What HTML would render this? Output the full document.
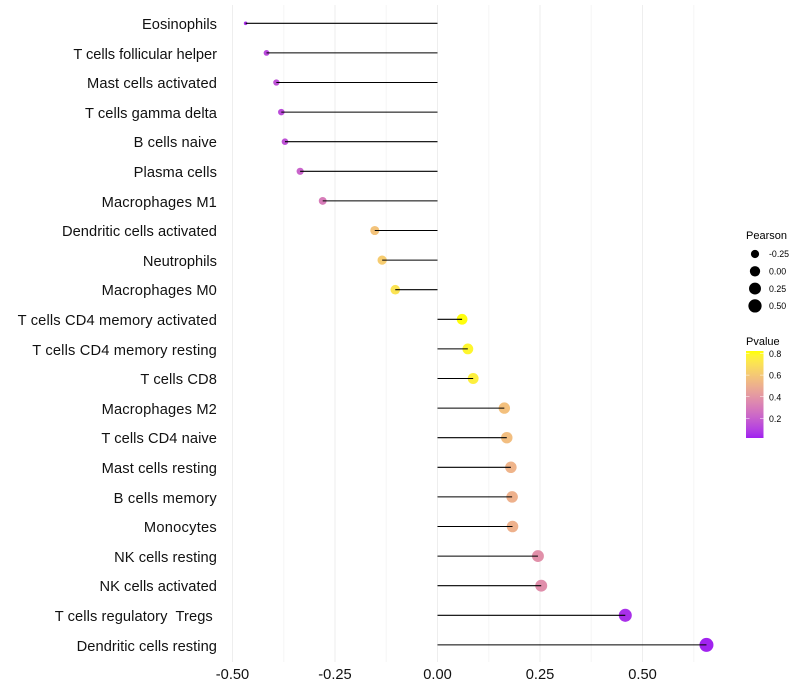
<!DOCTYPE html>
<html lang="en">
<head>
<meta charset="utf-8">
<title>Immune cell correlation lollipop chart</title>
<style>
  html, body { margin: 0; padding: 0; background: #fff; }
  svg { display: block; font-family: "Liberation Sans", sans-serif; }
</style>
</head>
<body>
<svg id="chart" xmlns="http://www.w3.org/2000/svg" width="800" height="700" viewBox="0 0 800 700">
  <defs>
    <linearGradient id="pvalue-gradient" x1="0" y1="1" x2="0" y2="0"></linearGradient>
  </defs>
  <rect width="800" height="700" fill="#ffffff"/>
  <g id="grid"></g>
  <g id="points"></g>
  <g id="stems"></g>
  <g id="y-labels" font-size="14.67" fill="#111111" text-anchor="end"></g>
  <g id="x-labels" font-size="14.67" fill="#111111" text-anchor="middle"></g>

  <g id="size-legend">
    <text x="746" y="239" font-size="11" fill="#000">Pearson</text>
  </g>
  <g id="color-legend">
    <text x="746" y="345" font-size="11" fill="#000">Pvalue</text>
    <rect x="746" y="351" width="17.5" height="87" fill="url(#pvalue-gradient)"/>
  </g>
</svg>
<script>
const categories = ["Eosinophils","T cells follicular helper","Mast cells activated","T cells gamma delta","B cells naive","Plasma cells","Macrophages M1","Dendritic cells activated","Neutrophils","Macrophages M0","T cells CD4 memory activated","T cells CD4 memory resting","T cells CD8","Macrophages M2","T cells CD4 naive","Mast cells resting","B cells memory","Monocytes","NK cells resting","NK cells activated","T cells regulatory  Tregs ","Dendritic cells resting"];
const pearsonValues = [-0.468,-0.417,-0.393,-0.381,-0.372,-0.335,-0.280,-0.153,-0.135,-0.103,0.060,0.074,0.087,0.163,0.169,0.179,0.182,0.183,0.245,0.253,0.458,0.656];
const pvalueValues = [0.05,0.12,0.15,0.13,0.15,0.21,0.30,0.58,0.62,0.71,0.82,0.79,0.76,0.57,0.56,0.52,0.51,0.51,0.38,0.37,0.05,0.02];
const xMajorTicks = [-0.5,-0.25,0,0.25,0.5];
const xMinorTicks = [-0.375,-0.125,0.125,0.375,0.625];
const xTickLabels = ["-0.50","-0.25","0.00","0.25","0.50"];
const sizeLegendValues = [-0.25,0,0.25,0.5];
const sizeLegendLabels = ["-0.25","0.00","0.25","0.50"];
const colorLegendValues = [0.2,0.4,0.6,0.8];
const colorLegendLabels = ["0.2","0.4","0.6","0.8"];

const NS = "http://www.w3.org/2000/svg";
function make(tag, attrs, parent) {
  const el = document.createElementNS(NS, tag);
  for (const k in attrs) el.setAttribute(k, attrs[k]);
  parent.appendChild(el);
  return el;
}
function slug(s) { return s.trim().toLowerCase().replace(/[^a-z0-9]+/g, "-"); }

/* axis functions */
function xScale(v) { return 437.5 + 410 * v; }
function yScale(i) { return 23.3 + 29.6 * i; }
function pvalueScale(p) { return 353.5 + (0.8 - p) * 108; }
function radiusScale(v) {
  const t = Math.max(0, (v + 0.468) / 1.124);
  return 1.8 + 5.2 * Math.sqrt(t);
}

/* text style: extra tracking per label, mimicking the reference's hinted glyph advances */
const labelTracking = {
  "T cells follicular helper": -1, "Mast cells activated": 2, "T cells gamma delta": 1,
  "B cells naive": 1, "Plasma cells": 1, "Macrophages M1": 2, "Dendritic cells activated": 1,
  "Macrophages M0": 2, "T cells CD4 memory activated": 4, "T cells CD4 memory resting": 4,
  "T cells CD8": 1, "Macrophages M2": 2, "T cells CD4 naive": 1, "Mast cells resting": 2,
  "B cells memory": 3, "Monocytes": 2, "NK cells resting": 1, "NK cells activated": 1,
  "T cells regulatory  Tregs ": 2, "Dendritic cells resting": 1
};

/* colour scale: purple to yellow interpolated in Lab, like ggplot2 */
function rgb2lab(c) {
  const l = c.map(function (v) { v /= 255; return v > 0.04045 ? Math.pow((v + 0.055) / 1.055, 2.4) : v / 12.92; });
  const X = (0.4124 * l[0] + 0.3576 * l[1] + 0.1805 * l[2]) / 0.95047;
  const Y = 0.2126 * l[0] + 0.7152 * l[1] + 0.0722 * l[2];
  const Z = (0.0193 * l[0] + 0.1192 * l[1] + 0.9505 * l[2]) / 1.08883;
  const f = function (t) { return t > 0.008856 ? Math.cbrt(t) : 7.787 * t + 16 / 116; };
  return [116 * f(Y) - 16, 500 * (f(X) - f(Y)), 200 * (f(Y) - f(Z))];
}
function lab2rgb(lab) {
  const fy = (lab[0] + 16) / 116, fx = lab[1] / 500 + fy, fz = fy - lab[2] / 200;
  const g = function (t) { return t * t * t > 0.008856 ? t * t * t : (t - 16 / 116) / 7.787; };
  const X = g(fx) * 0.95047, Y = g(fy), Z = g(fz) * 1.08883;
  const lin = [3.2406 * X - 1.5372 * Y - 0.4986 * Z, -0.9689 * X + 1.8758 * Y + 0.0415 * Z, 0.0557 * X - 0.204 * Y + 1.057 * Z];
  return lin.map(function (v) {
    v = Math.max(0, Math.min(1, v));
    v = v > 0.0031308 ? 1.055 * Math.pow(v, 1 / 2.4) - 0.055 : 12.92 * v;
    return Math.round(v * 255);
  });
}
const labLow = rgb2lab([160, 32, 240]);
const labHigh = rgb2lab([255, 255, 0]);
const pMin = 0.015, pMax = 0.825;
function colorScale(p) {
  const t = Math.max(0, Math.min(1, (p - pMin) / (pMax - pMin)));
  const c = lab2rgb([0, 1, 2].map(function (i) { return labLow[i] + (labHigh[i] - labLow[i]) * t; }));
  return "rgb(" + c.join(",") + ")";
}

/* grid */
const gridGroup = document.getElementById("grid");
xMinorTicks.forEach(function (v) {
  const line = make("line", { x1: xScale(v), x2: xScale(v), y1: 5, y2: 662, stroke: "#f5f5f5", "stroke-width": 1 }, gridGroup);
  
  
});
xMajorTicks.forEach(function (v) {
  const line = make("line", { x1: xScale(v), x2: xScale(v), y1: 5, y2: 662, stroke: "#eeeeee", "stroke-width": 1 }, gridGroup);
  
  
});

/* points, stems, y labels */
const pointsGroup = document.getElementById("points");
const stemsGroup = document.getElementById("stems");
const yLabelGroup = document.getElementById("y-labels");
categories.forEach(function (name, i) {
  const y = yScale(i);
  const v = pearsonValues[i];
  const circle = make("circle", { cx: xScale(v), cy: y, r: radiusScale(v), fill: colorScale(pvalueValues[i]) }, pointsGroup);
  
  
  const stem = make("line", { x1: xScale(0), x2: xScale(v), y1: y, y2: y, stroke: "#000000", "stroke-width": 1.07 }, stemsGroup);
  
  
  const label = make("text", { x: 217, y: Math.round(y + 5.7) }, yLabelGroup);
  
  
  label.setAttribute('xml:space', 'preserve');
  label.style.whiteSpace = "pre";
  const extra = labelTracking[name] || 0;
  label.style.letterSpacing = (extra / (name.length - 1)).toFixed(3) + "px";
  label.textContent = name;
});

/* x labels */
const xLabelGroup = document.getElementById("x-labels");
xMajorTicks.forEach(function (v, i) {
  const label = make("text", { x: xScale(v), y: 679 }, xLabelGroup);
  
  
  label.textContent = xTickLabels[i];
});

/* size legend */
const sizeLegend = document.getElementById("size-legend");
sizeLegendValues.forEach(function (v, i) {
  const y = 254 + i * 17.3;
  const dot = make("circle", { cx: 755, cy: y, r: radiusScale(v), fill: "#000000" }, sizeLegend);
  
  
  const text = make("text", { x: 769, y: y + 3.2, "font-size": 8.8, fill: "#000" }, sizeLegend);
  
  
  text.textContent = sizeLegendLabels[i];
});

/* colour legend */
const gradient = document.getElementById("pvalue-gradient");
for (let k = 0; k <= 20; k++) {
  make("stop", { offset: (k * 5) + "%", "stop-color": colorScale(pMin + (pMax - pMin) * k / 20) }, gradient);
}
const colorLegend = document.getElementById("color-legend");
colorLegendValues.forEach(function (p, i) {
  const y = pvalueScale(p);
  const tickL = make("line", { x1: 746, x2: 749.5, y1: y, y2: y, stroke: "#ffffff", "stroke-width": 0.5 }, colorLegend);
  
  
  const tickR = make("line", { x1: 760, x2: 763.5, y1: y, y2: y, stroke: "#ffffff", "stroke-width": 0.5 }, colorLegend);
  
  
  const text = make("text", { x: 769, y: y + 3.6, "font-size": 8.8, fill: "#000" }, colorLegend);
  
  
  text.textContent = colorLegendLabels[i];
});
</script>
</body>
</html>
